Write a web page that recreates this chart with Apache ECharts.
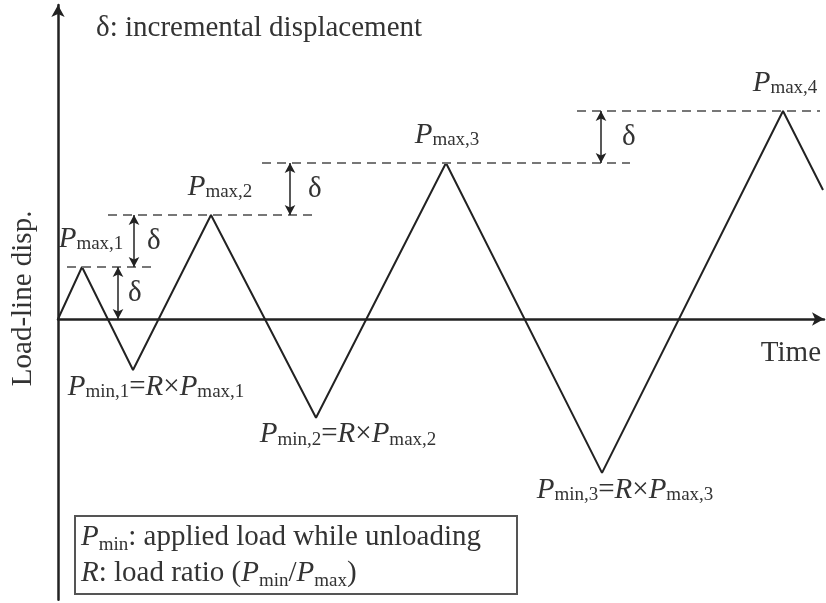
<!DOCTYPE html>
<html><head><meta charset="utf-8">
<script src="https://cdn.jsdelivr.net/npm/echarts@6/dist/echarts.min.js"></script>
<style>html,body{margin:0;padding:0;background:#fff}#c{width:826px;height:603px}</style>
</head><body><div id="c"></div>
<script>
// ---- data (time units, displacement in units of delta) ----
const cycleTime = [0, 2.4, 7.5, 15.3, 25.8, 38.8, 54.4, 72.5, 76.5];
const cycleDisp = [0, 1.0, -0.98, 2.0, -1.9, 3.0, -2.96, 4.0, 2.48];
const peakIdx = [1, 3, 5, 7];
const troughIdx = [2, 4, 6];
const levelStart = [0.9, 5.0, 20.4, 51.9];
const levelEnd = [9.5, 25.7, 57.2, 76.2];
const arrowTime = [6.0, 7.6, 23.2, 54.3];
const maxNames = ['max,1', 'max,2', 'max,3', 'max,4'];
const minNums = ['1', '2', '3'];
const titleText = 'δ: incremental displacement';
const xName = 'Time';
const yName = 'Load-line disp.';
const deltaText = 'δ';

// ---- layout / style ----
const FONT = 'Liberation Serif';
const TXT = '#333';
const FS = 29, SFS = 19;
const maxOffset = [[9, 0], [9, 0], [1, 0], [2, 0]];
const minOffset = [[23, 0], [32, 0], [23, 0]];
const deltaGap = [10, 13, 18, 21];

const richLbl = {
  P: {fontFamily: FONT, fontStyle: 'italic', fontSize: FS, lineHeight: 30, color: TXT},
  n: {fontFamily: FONT, fontSize: FS, lineHeight: 30, color: TXT},
  s: {fontFamily: FONT, fontSize: SFS, lineHeight: 15, verticalAlign: 'bottom', color: TXT}
};
const richBox = {
  P: {fontFamily: FONT, fontStyle: 'italic', fontSize: FS, lineHeight: 36, fill: TXT},
  n: {fontFamily: FONT, fontSize: FS, lineHeight: 36, fill: TXT},
  s: {fontFamily: FONT, fontSize: SFS, lineHeight: 21, verticalAlign: 'bottom', fill: TXT}
};

const mainData = cycleTime.map((t, i) => [t, cycleDisp[i]]);

const maxPoints = peakIdx.map((pi, k) => ({
  coord: [cycleTime[pi], cycleDisp[pi]],
  label: {show: true, position: 'top', distance: 13, offset: maxOffset[k],
    formatter: '{P|P}{s|' + maxNames[k] + '}', rich: richLbl}
}));
const minPoints = troughIdx.map((ti, k) => ({
  coord: [cycleTime[ti], cycleDisp[ti]],
  label: {show: true, position: 'bottom', distance: 2, offset: minOffset[k],
    formatter: '{P|P}{s|min,' + minNums[k] + '}{n|=}{P|R}{n|×}{P|P}{s|max,' + minNums[k] + '}', rich: richLbl}
}));

const levels = peakIdx.map(pi => cycleDisp[pi]);
const dashData = levels.map((lv, i) => [{coord: [levelStart[i], lv]}, {coord: [levelEnd[i], lv]}]);
const arrowData = levels.map((lv, i) => [{coord: [arrowTime[i], i === 0 ? 0 : levels[i - 1]]}, {coord: [arrowTime[i], lv]}]);
const deltaPoints = levels.map((lv, i) => ({
  coord: [arrowTime[i], ((i === 0 ? 0 : levels[i - 1]) + lv) / 2],
  label: {show: true, position: 'right', distance: deltaGap[i], formatter: deltaText,
    fontFamily: FONT, fontSize: FS, color: TXT}
}));

const chart = echarts.init(document.getElementById('c'), null, {renderer: 'canvas'});
chart.setOption({
  animation: false,
  backgroundColor: '#fff',
  title: {text: titleText, left: 96, top: 13, padding: 0,
    textStyle: {fontFamily: FONT, fontSize: FS, fontWeight: 'normal', color: TXT, lineHeight: 30}},
  grid: {left: 58, right: 2, top: 5, bottom: 3.2, containLabel: false},
  xAxis: {
    type: 'value', min: 0, max: 76.6,
    name: xName, nameLocation: 'end', nameGap: -3,
    nameTextStyle: {fontFamily: FONT, fontSize: FS, color: TXT, align: 'right', verticalAlign: 'top', lineHeight: 28, padding: [20, 0, 0, 0]},
    axisLine: {show: true, onZero: true, symbol: ['none', 'arrow'], symbolSize: [10, 12],
      lineStyle: {color: '#222', width: 2.5}},
    axisTick: {show: false}, axisLabel: {show: false}, splitLine: {show: false}
  },
  yAxis: {
    type: 'value', min: -5.4, max: 6.038,
    name: yName, nameLocation: 'middle', nameRotate: 90, nameGap: 21,
    nameTextStyle: {fontFamily: FONT, fontSize: FS, color: TXT, lineHeight: 28, padding: [0, 0, 0, 8]},
    axisLine: {show: true, onZero: false, symbol: ['none', 'arrow'], symbolSize: [10, 12],
      lineStyle: {color: '#222', width: 2.5}},
    axisTick: {show: false}, axisLabel: {show: false}, splitLine: {show: false}
  },
  series: [
    {
      name: 'levels', type: 'line', data: [], silent: true,
      markLine: {silent: true, symbol: ['none', 'none'], label: {show: false},
        lineStyle: {type: [9, 6], color: '#777', width: 2}, data: dashData}
    },
    {
      name: 'delta', type: 'line', data: [], silent: true,
      markLine: {silent: true, symbol: ['arrow', 'arrow'], symbolSize: [8, 10], label: {show: false},
        lineStyle: {type: 'solid', color: '#222', width: 1.5}, data: arrowData},
      markPoint: {silent: true, symbol: 'circle', symbolSize: 0, data: deltaPoints}
    },
    {
      name: 'disp', type: 'line', data: mainData, clip: false, silent: true,
      symbol: 'none', lineStyle: {color: '#222', width: 2},
      markPoint: {silent: true, symbol: 'circle', symbolSize: 0, data: maxPoints.concat(minPoints)}
    }
  ],
  graphic: [
    {type: 'rect', shape: {x: 75, y: 516, width: 442, height: 78},
      style: {fill: 'none', stroke: '#555', lineWidth: 2}, silent: true},
    {type: 'text', x: 81, y: 519, silent: true,
      style: {text: '{P|P}{s|min}{n|: applied load while unloading}\n{P|R}{n|: load ratio (}{P|P}{s|min}{n|/}{P|P}{s|max}{n|)}',
        rich: richBox, fontFamily: FONT, fontSize: FS, fill: TXT}}
  ]
});
</script>
</body></html>
